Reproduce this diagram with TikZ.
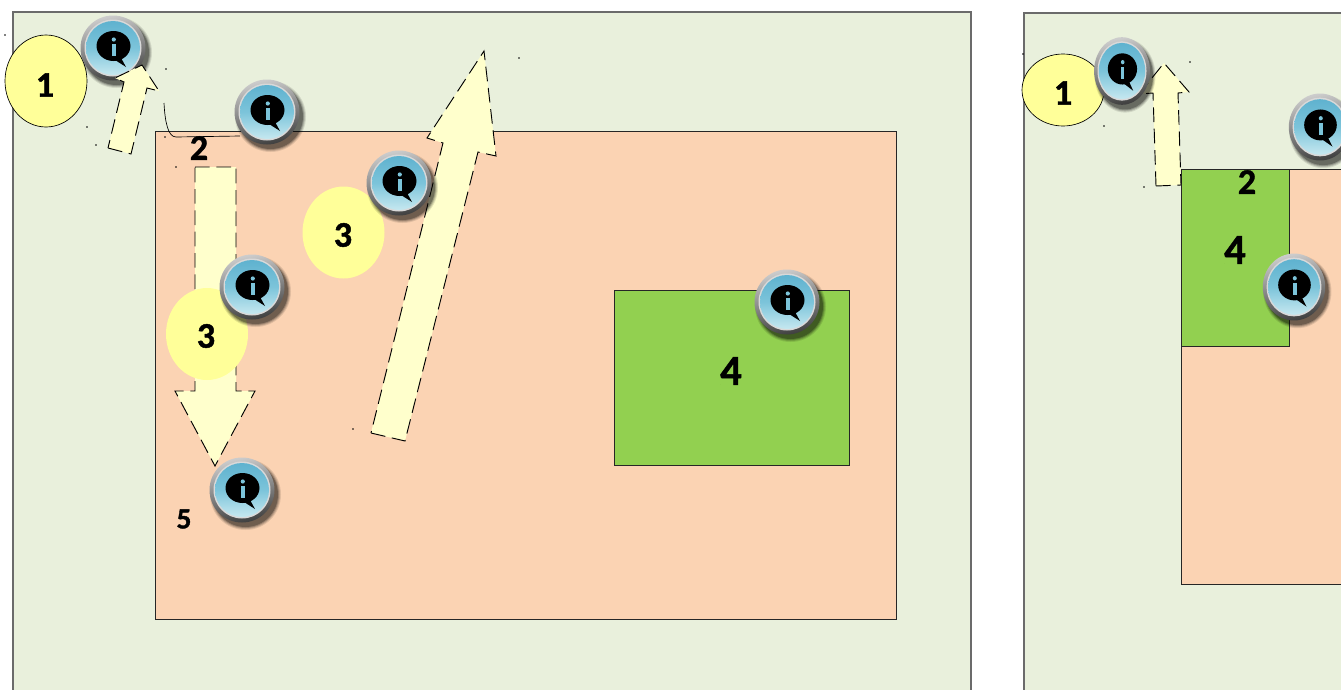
\documentclass[tikz,border=0pt]{standalone}
\usepackage{fontspec}
\setmainfont{Carlito}[BoldFeatures={FakeBold=1.2}]
\usepackage{xcolor}
\definecolor{paleground}{HTML}{E9F0DC}
\definecolor{peachzone}{HTML}{FBD3B3}
\definecolor{greenzone}{HTML}{92D050}
\definecolor{blobyellow}{HTML}{FFFF99}
\definecolor{arrowcream}{HTML}{FFFFCC}
\definecolor{icondeep}{HTML}{5FB2CF}
\definecolor{iconmid}{HTML}{7CC4DA}
\definecolor{iconpale}{HTML}{C6E8F0}
\usetikzlibrary{shapes.geometric}

\tikzset{
  infoicon/.pic={
    \foreach \s/\o in {35.5/.10, 34.5/.14, 33.5/.20, 32.5/.28}
      \fill[black, opacity=\o] (3.5,4.5) circle (\s);
    \shade[top color=black!20, bottom color=black!75, shading angle=12] (0,0) circle (32.5);
    \fill[white!85!black] (0,0) circle (28.5);
    \shade[top color=icondeep, bottom color=iconpale, middle color=iconmid] (0,0) circle (27);
    \fill[black] (0.5,-2) ellipse (17 and 15);
    \fill[black] (-1,10) -- (13,19) -- (7,8) -- cycle;
    \fill[iconmid] (0.8,-8.5) circle (2.1);
    \fill[iconmid] (-1,-4) rectangle (2.6,8);
  },
}

\begin{document}
\begin{tikzpicture}[
  x=0.75pt, y=-0.75pt,
  panel/.style={draw=black!58, line width=1.1pt, fill=paleground},
  zone/.style={draw=black!85, line width=0.6pt},
  blob/.style={ellipse, fill=blobyellow, inner sep=0pt},
  arrowshape/.style={fill=arrowcream, draw=black, line width=0.7pt,
                     dash pattern=on 11pt off 5pt},
  numlabel/.style={font=\fontsize{27}{27}\selectfont\bfseries, inner sep=0pt},
  speck/.style={fill=black},
]
\useasboundingbox (0,0) rectangle (1341,689);
\clip (0,0) rectangle (1341,689);

%% --- left panel ---
\fill[white] (0,0) rectangle (1341,689);
\draw[panel] (13,12) rectangle (971,720);
\draw[zone, fill=peachzone] (155.7,131.6) rectangle (896,619);
\draw[zone, fill=greenzone] (614,290.7) rectangle (849,465);

\node[blob, draw=black, line width=0.5pt, minimum width=61.5pt, minimum height=69pt] (blobA) at (46,81) {};
\pic at (113,48) {infoicon};
\draw[arrowshape] (108,148) -- (131,154) -- (147,88) -- (159,91) -- (142,65)
  -- (115,78) -- (124,82) -- cycle;
\draw[black, line width=0.5pt] (164,103) .. controls (165,122) and (168,137) .. (176,137) -- (240,136);
\pic at (267,112) {infoicon};

\draw[arrowshape] (195,167) -- (236,167) -- (236,391) -- (255,391) -- (215,466)
  -- (175,391) -- (195,391) -- cycle;
\node[blob, minimum width=61.5pt, minimum height=69pt] (blobB) at (207,334) {};
\pic at (252,287) {infoicon};
\pic at (242,490) {infoicon};

\node[blob, minimum width=61.5pt, minimum height=69pt] (blobC) at (343.5,232.5) {};
\draw[arrowshape] (371,433) -- (405,441) -- (478,152) -- (496,156) -- (484,51)
  -- (427,138) -- (443,143) -- cycle;
\pic at (399,183) {infoicon};
\pic at (787,302) {infoicon};

\node[numlabel] (numA) at (45,85) {1};
\node[numlabel] (numB) at (199,148) {2};
\node[numlabel] (numC) at (206,336) {3};
\node[numlabel] (numD) at (343,235) {3};
\node[numlabel, font=\fontsize{32}{32}\selectfont\bfseries] (numE) at (731,371) {4};
\node[numlabel, font=\fontsize{22}{22}\selectfont\bfseries] (numF) at (184,519) {5};

%% --- right panel ---
\draw[panel] (1024,13) rectangle (1400,720);
\draw[zone, fill=peachzone] (1181,169.6) rectangle (1400,584);
\draw[zone, fill=greenzone] (1181,169.6) rectangle (1289,346);

\node[blob, draw=black, line width=0.5pt, minimum width=61.5pt, minimum height=54pt] (blobR) at (1063,90) {};
\draw[arrowshape] (1156,186) -- (1181,185) -- (1178,93) -- (1189,92) -- (1164,63)
  -- (1139,94) -- (1153,93) -- cycle;
\pic[xscale=.86, yscale=1.04] at (1122,71) {infoicon};
\pic[xscale=.96, yscale=1.03] at (1320,127) {infoicon};
\pic[xscale=.96, yscale=1.03] at (1294,287) {infoicon};

\node[numlabel] (numR) at (1063,93) {1};
\node[numlabel] (numS) at (1247,182) {2};
\node[numlabel, font=\fontsize{32}{32}\selectfont\bfseries] (numT) at (1235,250) {4};

%% --- stray specks ---
\foreach \x/\y in {5/35, 166/69, 87/127, 96/145, 165/137, 176/167, 353/429, 519/58,
                   1023/54, 1190/62, 1104/126, 1144/187}
  \fill[speck] (\x,\y) circle (0.8);
\end{tikzpicture}
\end{document}
